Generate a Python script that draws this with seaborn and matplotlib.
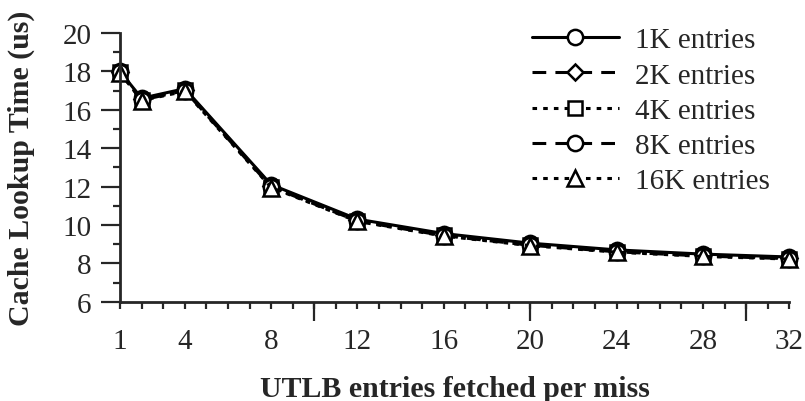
import matplotlib
matplotlib.use("Agg")
import matplotlib.pyplot as plt
from matplotlib.ticker import MultipleLocator, NullFormatter
import seaborn as sns
import pandas as pd

# ---- data ----
entries_fetched = [1, 2, 4, 8, 12, 16, 20, 24, 28, 32]
t_1k = [18.00, 16.60, 17.10, 12.10, 10.30, 9.55, 9.05, 8.70, 8.48, 8.33]
t_2k = [17.98, 16.55, 17.05, 12.05, 10.25, 9.50, 9.00, 8.65, 8.43, 8.28]
t_4k = [17.96, 16.52, 17.02, 12.00, 10.22, 9.46, 8.96, 8.61, 8.40, 8.25]
t_8k = [17.95, 16.50, 17.00, 11.98, 10.20, 9.44, 8.94, 8.60, 8.38, 8.24]
t_16k = [17.93, 16.48, 16.96, 11.95, 10.18, 9.42, 8.92, 8.58, 8.36, 8.22]
series_names = ["1K entries", "2K entries", "4K entries", "8K entries", "16K entries"]
series_values = [t_1k, t_2k, t_4k, t_8k, t_16k]
x_tick_labels = [1, 4, 8, 12, 16, 20, 24, 28, 32]
long_ticks = [10, 20, 30]
y_ticks = [6, 8, 10, 12, 14, 16, 18, 20]

sns.set_style("ticks")
plt.rcParams["font.family"] = ["Liberation Serif", "DejaVu Serif"]
plt.rcParams["font.size"] = 21

styles = [
    dict(marker="o", linestyle="-", ms=11.0),
    dict(marker="D", linestyle=(0, (4.5, 3.0)), ms=8.5),
    dict(marker="s", linestyle=(0, (1.5, 2.0)), ms=10.5),
    dict(marker="o", linestyle=(0, (4.5, 3.0)), ms=11.0),
    dict(marker="^", linestyle=(0, (1.5, 2.0)), ms=12.0),
]

fig = plt.figure(figsize=(8.05, 4.02), dpi=100)
ax = fig.add_axes([120 / 805, 1 - 302.7 / 402, 669.3 / 805, 268.7 / 402])

for name, vals, st in zip(series_names, series_values, styles):
    df = pd.DataFrame({"x": entries_fetched, "y": vals})
    sns.lineplot(data=df, x="x", y="y", ax=ax, color="black", label=name,
                 marker=st["marker"], linestyle=st["linestyle"], markersize=st["ms"],
                 markerfacecolor="white", markeredgecolor="black",
                 markeredgewidth=1.8, linewidth=2.2, clip_on=False)

ax.set_xlim(1, 32)
ax.set_ylim(6, 20)
sns.despine(ax=ax)
for sp in ("left", "bottom"):
    ax.spines[sp].set_linewidth(2.0)

# x axis: labels without marks, minor ticks every unit, long ticks at 10/20/30
ax.xaxis.remove_overlapping_locs = False
ax.set_xticks(x_tick_labels)
ax.set_xticklabels([str(v) for v in x_tick_labels])
ax.xaxis.set_minor_locator(MultipleLocator(1))
ax.tick_params(axis="x", which="major", length=0, pad=19, labelsize=21)
ax.tick_params(axis="x", which="minor", length=5, width=1.6, direction="out")

sec = ax.secondary_xaxis("bottom")
sec.set_xticks(long_ticks)
sec.xaxis.set_major_formatter(NullFormatter())
sec.tick_params(axis="x", length=13.7, width=1.6, direction="out")
sec.spines["bottom"].set_visible(False)

ax.set_yticks(y_ticks)
ax.yaxis.set_minor_locator(MultipleLocator(1))
ax.tick_params(axis="y", which="major", length=13.7, width=1.6, pad=7, labelsize=21)
ax.tick_params(axis="y", which="minor", length=5, width=1.6)

ax.set_xlabel("UTLB entries fetched per miss", fontsize=21.5, fontweight="bold")
ax.set_ylabel("Cache Lookup Time (us)", fontsize=21.5, fontweight="bold")
ax.xaxis.set_label_coords(0.5, -0.272)
ax.yaxis.set_label_coords(-0.127, 0.5)

leg = ax.legend(loc="upper right", bbox_to_anchor=(770 / 805, 1 - 28 / 402),
                bbox_transform=fig.transFigure, frameon=False, fontsize=21,
                handlelength=3.0, handletextpad=0.55, labelspacing=0.3,
                borderpad=0, borderaxespad=0, numpoints=1)

fig.savefig("out.png", dpi=100)
